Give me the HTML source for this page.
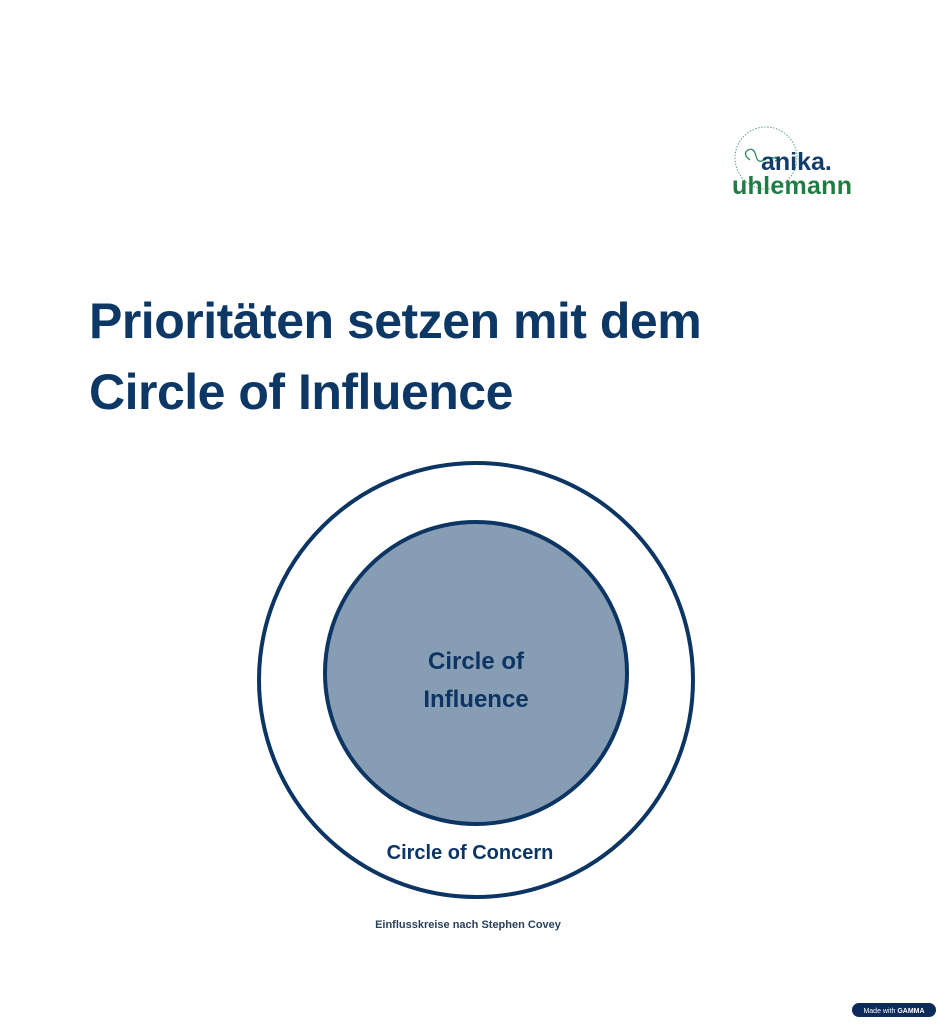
<!DOCTYPE html>
<html><head><meta charset="utf-8"><style>
body{margin:0;width:942px;height:1024px;background:#fff;position:relative;overflow:hidden;font-family:"Liberation Sans",sans-serif;}
.t{position:absolute;left:89px;color:#0d3866;font-weight:bold;font-size:50px;white-space:nowrap;letter-spacing:-0.5px}
</style></head><body>
<svg width="942" height="1024" style="position:absolute;left:0;top:0">
<circle cx="766" cy="158" r="31" fill="none" stroke="#5aa57a" stroke-width="1" stroke-dasharray="1.5 1.5"/>
<path d="M750 160 q-8 -6 -2 -10 q6 -3 8 6 q2 8 8 4 q6 -4 14 -1" fill="none" stroke="#2c8a5a" stroke-width="1.3"/>
<path d="M775 157 l4 2 l-4 2" fill="none" stroke="#2c8a5a" stroke-width="1.3"/>
<text x="761" y="170" font-family="Liberation Sans" font-weight="bold" font-size="25" fill="#133c6b">anika.</text>
<text x="732" y="194" font-family="Liberation Sans" font-weight="bold" font-size="25" fill="#1e7d42" textLength="120">uhlemann</text>
<circle cx="476" cy="680" r="217" fill="#fff" stroke="#0c3563" stroke-width="4"/>
<circle cx="476" cy="673" r="151" fill="#879db3" stroke="#0c3563" stroke-width="4"/>
<text x="476" y="669" text-anchor="middle" font-family="Liberation Sans" font-weight="bold" font-size="24" fill="#0c3563">Circle of</text>
<text x="476" y="707" text-anchor="middle" font-family="Liberation Sans" font-weight="bold" font-size="24" fill="#0c3563">Influence</text>
<text x="470" y="859" text-anchor="middle" font-family="Liberation Sans" font-weight="bold" font-size="20" fill="#0c3563">Circle of Concern</text>
<text x="468" y="928" text-anchor="middle" font-family="Liberation Sans" font-weight="bold" font-size="11" fill="#2a3f5a">Einflusskreise nach Stephen Covey</text>
<rect x="852" y="1003" width="84" height="14" rx="7" fill="#0c2a5a"/>
<text x="894" y="1013" text-anchor="middle" font-family="Liberation Sans" font-size="7" fill="#fff">Made with <tspan font-weight="bold">GAMMA</tspan></text>
</svg>
<div class="t" style="top:292px">Prioritäten setzen mit dem</div>
<div class="t" style="top:363px">Circle of Influence</div>
</body></html>
